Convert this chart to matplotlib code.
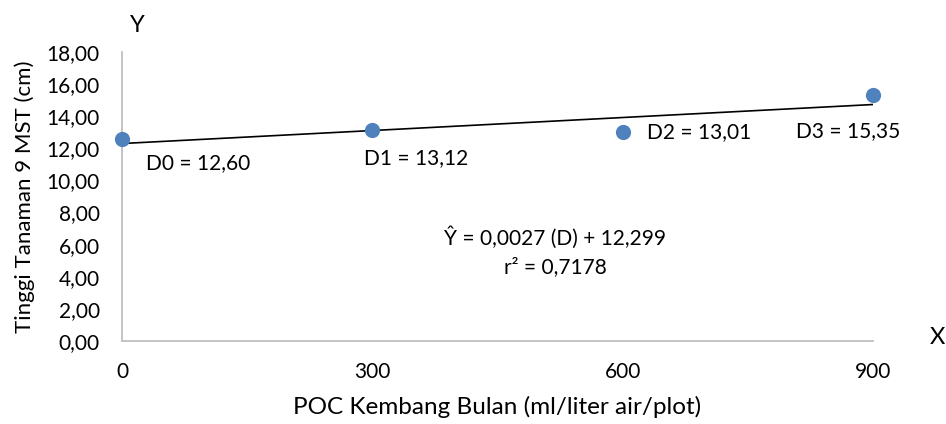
import matplotlib
matplotlib.use("Agg")
import matplotlib.pyplot as plt
import numpy as np

x_vals = [0, 300, 600, 900]
y_vals = [12.60, 13.12, 13.01, 15.35]
point_labels = ["D0 = 12,60", "D1 = 13,12", "D2 = 13,01", "D3 = 15,35"]
label_offsets = [(24, -24), (-8, -28), (24, 0), (-77, -37)]
slope = 0.0027
intercept = 12.299
x_ticks = [0, 300, 600, 900]
y_ticks = [0, 2, 4, 6, 8, 10, 12, 14, 16, 18]

plt.rcParams['font.family'] = ['Lato', 'DejaVu Sans']
FS = 15

fig = plt.figure(figsize=(9.46, 4.24), dpi=100)
ax = fig.add_axes([122/946, 1-341/424, (873-122)/946, (341-52)/424])

xs = np.array([x_ticks[0], x_ticks[-1]])
ax.plot(xs, slope*xs + intercept, color='black', lw=1.2, zorder=2)
ax.scatter(x_vals, y_vals, s=120, color='#4f81bd', zorder=3, clip_on=False, linewidths=0)

for xv, yv, lab, (dx, dy) in zip(x_vals, y_vals, point_labels, label_offsets):
    ax.annotate(lab, (xv, yv), xytext=(dx, dy), textcoords='offset pixels',
                ha='left', va='center', fontsize=FS, color='black')

ax.set_xlim(0, 900)
ax.set_ylim(0, 18)
ax.set_xticks(x_ticks)
ax.set_xticklabels([str(v) for v in x_ticks])
ax.set_yticks(y_ticks)
ax.set_yticklabels([f"{v:.2f}".replace('.', ',') for v in y_ticks])
ax.tick_params(length=0, labelsize=FS)
ax.tick_params(axis='y', pad=16)
ax.tick_params(axis='x', pad=15)
for s in ['top', 'right']:
    ax.spines[s].set_visible(False)
for s in ['left', 'bottom']:
    ax.spines[s].set_color('#bfbfbf')
    ax.spines[s].set_linewidth(1.3)

ax.set_xlabel("POC Kembang Bulan (ml/liter air/plot)", fontsize=17.5, labelpad=10)
ax.set_ylabel("Tinggi Tanaman 9 MST (cm)", fontsize=FS+1, labelpad=8)

fig.text(555/946, 1-238/424, "Ŷ = 0,0027 (D) + 12,299", ha='center', va='center', fontsize=FS)
fig.text(555/946, 1-267/424, "r² = 0,7178", ha='center', va='center', fontsize=FS)
fig.text(137/946, 1-25/424, "Y", ha='center', va='center', fontsize=FS+2)
fig.text(937/946, 1-338/424, "X", ha='center', va='center', fontsize=FS+2)

fig.savefig("out.png", dpi=100)
